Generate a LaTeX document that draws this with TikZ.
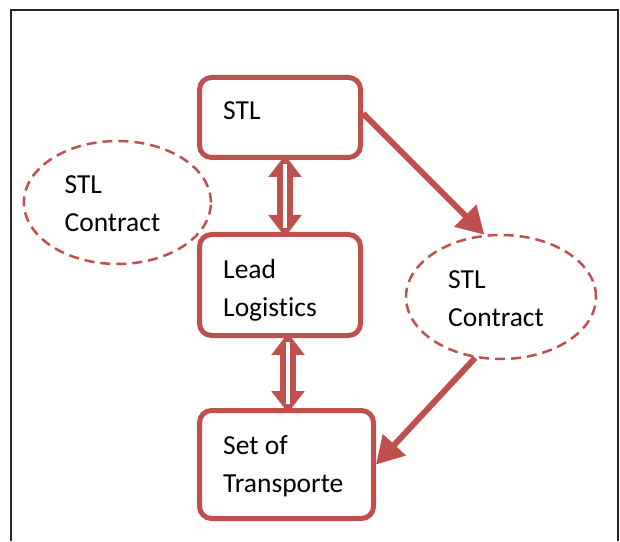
\documentclass[tikz,border=0pt]{standalone}
\usepackage{fontspec}
\setmainfont{Carlito}[Ligatures=NoCommon]
\usetikzlibrary{arrows.meta,shapes.geometric}
\definecolor{stlred}{RGB}{192,80,77}
\tikzset{
  stlbox/.style={draw=stlred, line width=5pt, rounded corners=12pt, fill=white},
  contract/.style={ellipse, draw=stlred, line width=2.5pt, dash pattern=on 10pt off 6pt},
  boxtext/.style={inner sep=0pt, align=left, anchor=north west, font=\fontsize{27.5}{38}\selectfont},
  flow/.style={draw=stlred, line width=6pt, -{Triangle[length=27pt,width=30pt]}},
  updown/.style={draw=stlred, line width=16pt, shorten <=-5pt, shorten >=-5pt,
    {Triangle[length=22pt,width=32pt]}-{Triangle[length=22pt,width=32pt]}},
  updowninner/.style={draw=white, line width=4pt, shorten <=4pt, shorten >=4pt}
}
\begin{document}
\begin{tikzpicture}[x=1pt,y=1pt]
  \useasboundingbox (0,0) rectangle (620,541);
  % frame
  \draw[line width=2pt, black!85] (11,0) -- (11,531) -- (618,531) -- (618,0);

  % boxes
  \node[stlbox, minimum width=161pt, minimum height=80pt]  (stl)  at (280,423.5) {};
  \node[stlbox, minimum width=161pt, minimum height=101pt] (lead) at (280,256)   {};
  \node[stlbox, minimum width=174pt, minimum height=108pt] (set)  at (286.5,76.5) {};
  \node[boxtext] (stltext)  at ([xshift=26pt,yshift=-26pt]stl.north west)  {STL};
  \node[boxtext] (leadtext) at ([xshift=26pt,yshift=-27pt]lead.north west) {Lead\\Logistics};
  \node[boxtext] (settext)  at ([xshift=26pt,yshift=-27pt]set.north west)  {Set of\\Transporte};

  % contracts
  \node[contract, minimum width=187pt, minimum height=123pt] (leftc)  at (117.4,338.5) {};
  \node[contract, minimum width=190pt, minimum height=124pt] (rightc) at (501,244)     {};
  \node[boxtext] (leftctext)  at ([xshift=-53pt,yshift=27.5pt]leftc.center)  {STL\\Contract};
  \node[boxtext] (rightctext) at ([xshift=-53pt,yshift=27pt]rightc.center)   {STL\\Contract};

  % arrows
  \draw[flow] ([yshift=4pt]stl.east) -- (rightc.105);
  \draw[flow] (rightc.247) -- (set.east);
  \draw[updown]      ([xshift=5pt]stl.south) -- ([xshift=5pt]stl.south |- lead.north);
  \draw[updowninner] ([xshift=5pt]stl.south) -- ([xshift=5pt]stl.south |- lead.north);
  \draw[updown]      ([xshift=8pt]lead.south) -- ([xshift=8pt]lead.south |- set.north);
  \draw[updowninner] ([xshift=8pt]lead.south) -- ([xshift=8pt]lead.south |- set.north);
\end{tikzpicture}
\end{document}
